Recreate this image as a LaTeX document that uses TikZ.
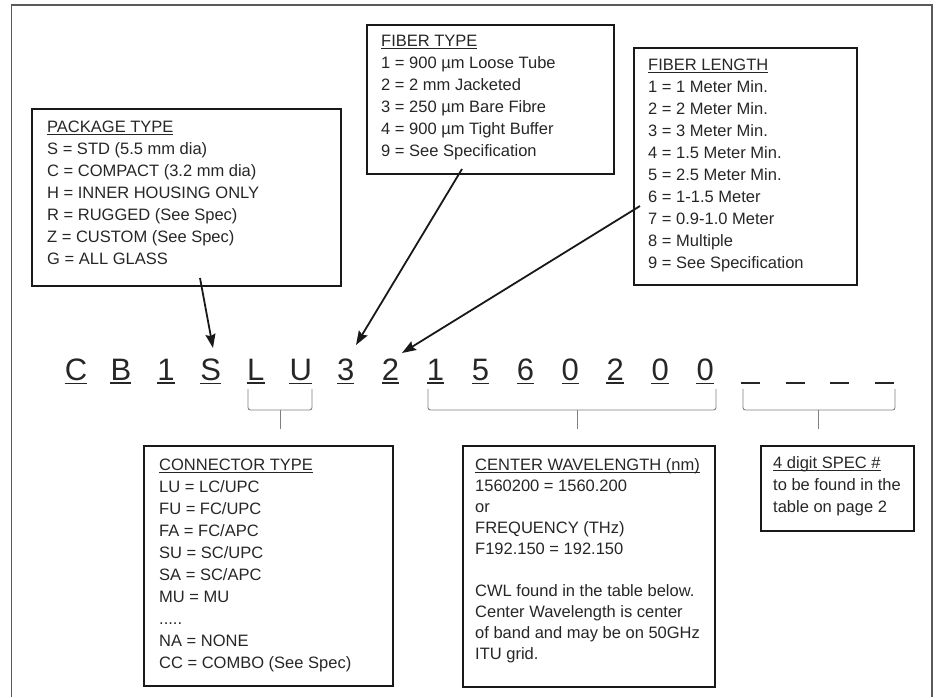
\documentclass[tikz,border=0pt]{standalone}
\usepackage{fontspec}
\setmainfont{Liberation Sans}
\usetikzlibrary{arrows.meta,calc}
\newcommand\ttl[1]{\setbox0\hbox{#1}\rlap{\rule[-2.4pt]{\wd0}{0.9pt}}\box0}
\newcommand\lines[1]{\begin{tabular}[t]{@{}l@{}}#1\end{tabular}}
\begin{document}
\begin{tikzpicture}[x=1pt,y=-1pt,
 frame/.style={draw=black!65, line width=1.1pt},
 box/.style={draw=black!90, line width=2pt, anchor=north west, inner sep=0pt},
 txt/.style={anchor=base west, inner sep=0pt, text=black!85, font=\fontsize{16.5}{22}\selectfont},
 code/.style={anchor=base, inner sep=0pt, text=black!85, font=\fontsize{31}{31}\selectfont},
 uline/.style={draw=black!85, line width=1.6pt},
 brk/.style={draw=black!50, line width=0.9pt, rounded corners=2.5pt},
 arr/.style={draw=black!90, line width=1.8pt, -{Stealth[length=14pt,width=10pt,inset=2pt]}},
]
\useasboundingbox (0,0) rectangle (938,697);
\draw[frame] (11.5,697) -- (11.5,5) -- (932,5) -- (932,697);

% boxes
\node[box, minimum width=309, minimum height=177] (pkg) at (31,108) {};
\node[box, minimum width=247, minimum height=149] (ftype) at (366,24) {};
\node[box, minimum width=223, minimum height=237] (flen) at (633,47) {};
\node[box, minimum width=249, minimum height=240] (conn) at (143,445) {};
\node[box, minimum width=252, minimum height=241] (cwl) at (462,445) {};
\node[box, minimum width=153, minimum height=85] (spec) at (760,445) {};

% texts
\node[txt] (pkgt) at (47,132.7) {\lines{\ttl{PACKAGE TYPE}\\ S = STD (5.5 mm dia)\\ C = COMPACT (3.2 mm dia)\\ H = INNER HOUSING ONLY\\ R = RUGGED (See Spec)\\ Z = CUSTOM (See Spec)\\ G = ALL GLASS}};
\node[txt] (ftypet) at (381,46.7) {\lines{\ttl{FIBER TYPE}\\ 1 = 900 µm Loose Tube\\ 2 = 2 mm Jacketed\\ 3 = 250 µm Bare Fibre\\ 4 = 900 µm Tight Buffer\\ 9 = See Specification}};
\node[txt] (flent) at (648,70) {\lines{\ttl{FIBER LENGTH}\\ 1 = 1 Meter Min.\\ 2 = 2 Meter Min.\\ 3 = 3 Meter Min.\\ 4 = 1.5 Meter Min.\\ 5 = 2.5 Meter Min.\\ 6 = 1-1.5 Meter\\ 7 = 0.9-1.0 Meter\\ 8 = Multiple\\ 9 = See Specification}};
\node[txt] (connt) at (159,470) {\lines{\ttl{CONNECTOR TYPE}\\ LU = LC/UPC\\ FU = FC/UPC\\ FA = FC/APC\\ SU = SC/UPC\\ SA = SC/APC\\ MU = MU\\ .....\\ NA = NONE\\ CC = COMBO (See Spec)}};
\node[txt, font=\fontsize{16.5}{21}\selectfont] (cwlt) at (475,470) {\lines{\ttl{CENTER WAVELENGTH (nm)}\\ 1560200 = 1560.200\\ or\\ FREQUENCY (THz)\\ F192.150 = 192.150\\ \\ CWL found in the table below.\\ Center Wavelength is center\\ of band and may be on 50GHz\\ ITU grid.}};
\node[txt] (spect) at (773,468) {\lines{\ttl{4 digit SPEC \#}\\ to be found in the\\ table on page 2}};

% code
\foreach \ch [count=\i from 0] in {C,B,1,S,L,U,3,2,1,5,6,0,2,0,0} {
  \node[code] (c\i) at ({76+44.94*\i},380) {\ch};
  \draw[uline] ($(c\i.south west)+(0,2.8)$) -- ($(c\i.south east)+(0,2.8)$);
}
\foreach \i in {15,...,18} {
  \coordinate (b\i) at ({76+44.94*\i},382.8);
  \draw[uline] ($(b\i)+(-9.5,0)$) -- ($(b\i)+(9.5,0)$);
}

% brackets
\draw[brk] (248,389) |- (312,410) -- (312,389);
\coordinate (k1) at (280,410); \coordinate (k1e) at (280,429);
\draw[brk] (k1) -- (k1e);
\draw[brk] (428,389) |- (716,410) -- (716,389);
\coordinate (k2) at (577,410); \coordinate (k2e) at (577,429);
\draw[brk] (k2) -- (k2e);
\draw[brk] (743,389) |- (895,410) -- (895,389);
\coordinate (k3) at (818,410); \coordinate (k3e) at (818,429);
\draw[brk] (k3) -- (k3e);

% arrows
\coordinate (a1s) at (200,278); \coordinate (a1e) at (213,348);
\coordinate (a2s) at (462,169); \coordinate (a2e) at (356,345);
\coordinate (a3s) at (640,206); \coordinate (a3e) at (402,353);
\draw[arr] (a1s) -- (a1e);
\draw[arr] (a2s) -- (a2e);
\draw[arr] (a3s) -- (a3e);
\end{tikzpicture}
\end{document}
